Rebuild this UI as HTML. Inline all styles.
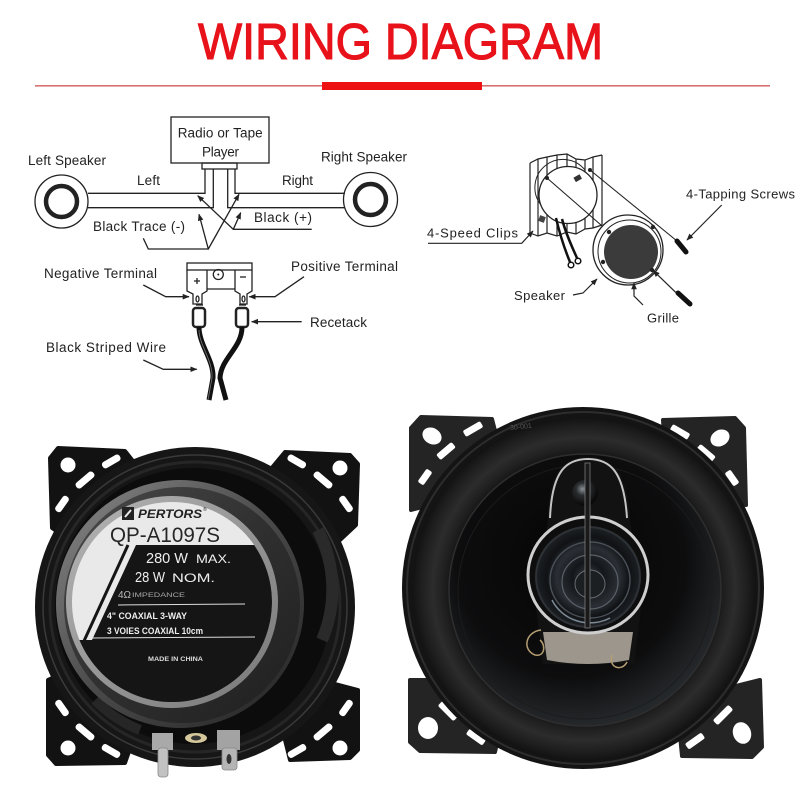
<!DOCTYPE html>
<html><head><meta charset="utf-8">
<style>
html,body{margin:0;padding:0;background:#fff;}
svg{display:block;}
text{font-family:"Liberation Sans",Arial,sans-serif;}
</style></head><body>
<svg width="800" height="800" viewBox="0 0 800 800" xmlns="http://www.w3.org/2000/svg">
<defs>
<marker id="ah" viewBox="0 0 10 10" refX="9" refY="5" markerWidth="7" markerHeight="7" orient="auto" markerUnits="userSpaceOnUse">
<path d="M0,1 L10,5 L0,9 z" fill="#222"/>
</marker>
<radialGradient id="surr" cx="0.5" cy="0.5" r="0.5">
<stop offset="0.76" stop-color="#111"/>
<stop offset="0.82" stop-color="#202020"/>
<stop offset="0.88" stop-color="#2c2c2c"/>
<stop offset="0.95" stop-color="#1e1e1e"/>
<stop offset="1" stop-color="#121212"/>
</radialGradient>
<radialGradient id="cone" cx="0.45" cy="0.4" r="0.6">
<stop offset="0" stop-color="#050505"/>
<stop offset="0.7" stop-color="#0d0d0e"/>
<stop offset="1" stop-color="#25282b"/>
</radialGradient>
<linearGradient id="magg" x1="0" y1="0" x2="1" y2="1">
<stop offset="0" stop-color="#8a8a8a"/>
<stop offset="0.5" stop-color="#4a4a4a"/>
<stop offset="1" stop-color="#222"/>
</linearGradient>
<linearGradient id="ringg" x1="0" y1="0" x2="1" y2="1">
<stop offset="0" stop-color="#b5b5b5"/>
<stop offset="1" stop-color="#777"/>
</linearGradient>
<radialGradient id="dome" cx="0.4" cy="0.35" r="0.6">
<stop offset="0" stop-color="#8a9096"/>
<stop offset="0.4" stop-color="#2a2d30"/>
<stop offset="1" stop-color="#0a0a0a"/>
</radialGradient>
<radialGradient id="tw" cx="0.5" cy="0.5" r="0.5">
<stop offset="0" stop-color="#3a3f45"/>
<stop offset="0.3" stop-color="#14171a"/>
<stop offset="0.6" stop-color="#2a2f35"/>
<stop offset="0.8" stop-color="#101214"/>
<stop offset="1" stop-color="#1d2024"/>
</radialGradient>
<clipPath id="lab"><circle cx="172" cy="602" r="100"/></clipPath>
</defs>

<!-- TITLE -->
<text x="400.5" y="59" text-anchor="middle" font-size="51" fill="#e8121a" stroke="#e8121a" stroke-width="1.1" textLength="405" lengthAdjust="spacingAndGlyphs">WIRING DIAGRAM</text>
<rect x="35" y="85" width="735" height="1.6" fill="#d77272"/>
<rect x="322" y="82" width="160" height="8" fill="#ee1111"/>

<!-- LEFT DIAGRAM -->
<g stroke="#222" stroke-width="1.3" fill="none">
<rect x="171" y="117" width="98" height="46"/>
<rect x="202" y="163" width="35" height="6"/>
<path d="M88,193.3 H205 V169"/>
<path d="M88,207.7 H213.3 V169"/>
<path d="M345,193.3 H235 V169"/>
<path d="M345,207.7 H227.7 V169"/>
<circle cx="61.5" cy="201.5" r="26.5"/>
<circle cx="61.5" cy="201.5" r="15.5" stroke-width="4.5"/>
<circle cx="370.5" cy="199.5" r="27"/>
<circle cx="370.5" cy="199.5" r="15.5" stroke-width="4.5"/>
<polyline points="143.3,238.3 148.3,249 208.3,249 199,214.3" marker-end="url(#ah)"/>
<line x1="208.3" y1="249" x2="239" y2="194.3" marker-end="url(#ah)"/>
<polyline points="311.7,229.3 233.3,229.3 197.7,195.7" marker-end="url(#ah)"/>
<line x1="233.3" y1="229.3" x2="240.7" y2="212.7" marker-end="url(#ah)"/>

<!-- terminal block -->
<rect x="187" y="263" width="65" height="7"/>
<path d="M187,270 V291 L193,294 V304 H202 V294 L207,291 V270"/>
<path d="M235,270 V291 L240,294 V304 H247 V294 L252,291 V270"/>
<line x1="207" y1="289" x2="235" y2="289"/>
<circle cx="218.3" cy="274.5" r="5"/>
<path d="M194,281 H200 M197,278 V284"/>
<path d="M240,277 H246"/>
<ellipse cx="197.5" cy="299" rx="1.5" ry="3"/>
<ellipse cx="243.5" cy="299" rx="1.5" ry="3"/>
<polyline points="143.3,285 165.7,296.7 189,296.7" marker-end="url(#ah)"/>
<polyline points="304,276.7 275,296.7 249.3,296.7" marker-end="url(#ah)"/>
<line x1="301.7" y1="321.7" x2="251.7" y2="321.7" marker-end="url(#ah)"/>
<polyline points="143.3,360 163.3,369.3 196.7,369.3" marker-end="url(#ah)"/>
</g>
<circle cx="218.3" cy="274.5" r="1" fill="#222"/>
<!-- receptacles -->
<rect x="193" y="308" width="12" height="19" rx="3" fill="#fff" stroke="#222" stroke-width="2.5"/>
<rect x="236" y="308" width="12" height="19" rx="3" fill="#fff" stroke="#222" stroke-width="2.5"/>
<line x1="196" y1="305" x2="203" y2="305" stroke="#222" stroke-width="1.3"/>
<line x1="239" y1="305" x2="246" y2="305" stroke="#222" stroke-width="1.3"/>
<path d="M199,327 C199,345 214,360 213,378 L209,400" stroke="#111" stroke-width="5" fill="none"/>
<path d="M242,327 C242,348 221,358 220,378 L226,400" stroke="#111" stroke-width="5" fill="none"/>
<path d="M199,330 C199,345 213,360 212,378 L208,400" stroke="#777" stroke-width="0.8" fill="none"/>

<g font-size="13.5" fill="#222">
<text x="177.7" y="137.7" textLength="85">Radio or Tape</text>
<text x="202" y="156.7" textLength="37">Player</text>
<text x="28" y="165" textLength="78">Left Speaker</text>
<text x="321" y="161.7" textLength="86">Right Speaker</text>
<text x="137" y="185" textLength="23">Left</text>
<text x="282" y="185" textLength="31">Right</text>
<text x="93" y="231" textLength="92">Black  Trace (-)</text>
<text x="254" y="222" textLength="58">Black  (+)</text>
<text x="44" y="278" textLength="113">Negative  Terminal</text>
<text x="291" y="271" textLength="107">Positive  Terminal</text>
<text x="310" y="327" textLength="57">Recetack</text>
<text x="46" y="352" textLength="120">Black  Striped  Wire</text>
</g>

<!-- RIGHT DIAGRAM -->
<g stroke="#222" stroke-width="1.2" fill="none">
<polyline points="530,163 538,159 547,157 557,155 567,154 576,159 585,160 593,157 602,155"/>
<line x1="530" y1="163" x2="530" y2="233"/>
<line x1="538" y1="159" x2="538" y2="236"/>
<line x1="547" y1="157" x2="547" y2="233"/>
<line x1="557" y1="155" x2="557" y2="236"/>
<line x1="567" y1="154" x2="567" y2="232"/>
<line x1="576" y1="159" x2="576" y2="234"/>
<line x1="585" y1="160" x2="585" y2="229"/>
<line x1="593" y1="157" x2="593" y2="228"/>
<line x1="602" y1="155" x2="602" y2="225"/>
<polyline points="530,233 538,236 547,233 557,236 567,232 576,234 585,229 593,228 602,225"/>
</g>
<ellipse cx="568" cy="195" rx="29" ry="28.5" fill="#fff" stroke="#222" stroke-width="1.3"/>
<path d="M541,205 A28,28 0 0 1 585,170" stroke="#222" stroke-width="1" fill="none"/>
<rect x="574" y="176" width="7" height="5" fill="#333" transform="rotate(-30 577 178)"/>
<rect x="539" y="216" width="6" height="6" fill="#444" transform="rotate(20 542 219)"/>
<path d="M556,218 C560,235 565,250 570,262" stroke="#111" stroke-width="2.5" fill="none"/>
<path d="M562,219 C566,234 572,247 577,258" stroke="#111" stroke-width="2.5" fill="none"/>
<circle cx="571" cy="265" r="2.8" fill="#fff" stroke="#111" stroke-width="1.5"/>
<circle cx="578" cy="261" r="2.8" fill="#fff" stroke="#111" stroke-width="1.5"/>
<circle cx="547" cy="178" r="2" fill="#222"/>
<circle cx="590" cy="170" r="2" fill="#222"/>
<line x1="547" y1="178" x2="609" y2="232" stroke="#222" stroke-width="1.1"/>
<ellipse cx="628" cy="250" rx="35" ry="35" fill="#fff" stroke="#222" stroke-width="1.3"/>
<ellipse cx="629.5" cy="251.5" rx="31.5" ry="31.5" fill="none" stroke="#222" stroke-width="1"/>
<ellipse cx="631" cy="252" rx="27" ry="27" fill="#3b3b3b"/>
<circle cx="609" cy="232" r="2.2" fill="#222"/>
<circle cx="653" cy="227" r="2.2" fill="#222"/>
<circle cx="603" cy="262" r="2.2" fill="#222"/>
<circle cx="652" cy="270" r="2.2" fill="#222"/>
<line x1="590" y1="170" x2="677" y2="241" stroke="#222" stroke-width="1.1"/>
<line x1="677" y1="241" x2="686" y2="252" stroke="#111" stroke-width="5" stroke-linecap="round"/>
<line x1="678" y1="293" x2="690" y2="304" stroke="#111" stroke-width="5" stroke-linecap="round"/>
<g stroke="#222" stroke-width="1.2" fill="none">
<line x1="721.7" y1="205" x2="687" y2="240" marker-end="url(#ah)"/>
<line x1="676.7" y1="293.3" x2="653.3" y2="270.7" marker-end="url(#ah)"/>
<polyline points="428,243.3 521.7,243.3 533,231" marker-end="url(#ah)"/>
<polyline points="573,295 583,293 597,279" marker-end="url(#ah)"/>
<polyline points="643,305 634,296 634,283" marker-end="url(#ah)"/>
</g>
<g font-size="13" fill="#222">
<text x="686" y="198.3" textLength="109">4-Tapping Screws</text>
<text x="427" y="237.3" textLength="91">4-Speed  Clips</text>
<text x="514" y="300" textLength="51">Speaker</text>
<text x="647" y="322.7" textLength="32">Grille</text>
</g>

<!-- LEFT SPEAKER PHOTO -->
<g fill="#121212">
<polygon points="50,458 58,448 125,451 140,470 70,540 52,528" stroke="#121212" stroke-width="4" stroke-linejoin="round"/>
<polygon points="285,452 350,455 358,464 356,525 340,540 270,470" stroke="#121212" stroke-width="4" stroke-linejoin="round"/>
<polygon points="48,680 48,755 56,764 125,763 140,720 70,670" stroke="#121212" stroke-width="4" stroke-linejoin="round"/>
<polygon points="290,760 350,758 358,750 358,690 320,680 280,720" stroke="#121212" stroke-width="4" stroke-linejoin="round"/>
</g>
<g fill="#fff">
<circle cx="68" cy="465" r="7.5"/>
<rect x="101" y="458" width="20" height="7" rx="3" transform="rotate(-30 111 461)"/>
<rect x="74" y="476.5" width="22" height="7" rx="3" transform="rotate(-40 85 480)"/>
<rect x="53" y="500.5" width="18" height="7" rx="3" transform="rotate(-55 62 504)"/>
<circle cx="340" cy="468" r="7.5"/>
<rect x="287" y="458" width="20" height="7" rx="3" transform="rotate(30 297 461)"/>
<rect x="312" y="476.5" width="22" height="7" rx="3" transform="rotate(40 323 480)"/>
<rect x="337" y="500.5" width="18" height="7" rx="3" transform="rotate(55 346 504)"/>
<circle cx="68" cy="748" r="7.5"/>
<rect x="101" y="747.5" width="20" height="7" rx="3" transform="rotate(30 111 751)"/>
<rect x="74" y="728.5" width="22" height="7" rx="3" transform="rotate(40 85 732)"/>
<rect x="53" y="704.5" width="18" height="7" rx="3" transform="rotate(55 62 708)"/>
<circle cx="340" cy="748" r="7.5"/>
<rect x="287" y="747.5" width="20" height="7" rx="3" transform="rotate(-30 297 751)"/>
<rect x="312" y="728.5" width="22" height="7" rx="3" transform="rotate(-40 323 732)"/>
<rect x="337" y="704.5" width="18" height="7" rx="3" transform="rotate(-55 346 708)"/>
</g>
<circle cx="195" cy="607" r="160" fill="#161616"/>
<circle cx="195" cy="607" r="152" fill="none" stroke="#3a3a3a" stroke-width="1.5"/>
<circle cx="195" cy="607" r="145" fill="none" stroke="#262626" stroke-width="3"/>
<circle cx="193" cy="606" r="138" fill="#0c0c0c"/>
<path d="M318,530 A130,130 0 0 1 322,640" stroke="#2a2a2a" stroke-width="12" fill="none"/>
<path d="M95,700 A130,130 0 0 0 140,730" stroke="#262626" stroke-width="10" fill="none"/>
<circle cx="180" cy="604" r="124" fill="url(#magg)"/>
<circle cx="182" cy="605" r="118" fill="#1c1c1c" opacity="0.55"/>
<circle cx="172" cy="602" r="106" fill="url(#ringg)"/>
<g clip-path="url(#lab)">
<rect x="60" y="490" width="230" height="230" fill="#e9e9e9"/>
<polygon points="136,545 300,545 300,720 40,720 40,640 92,640" fill="#151515"/>
<line x1="128" y1="545" x2="84" y2="641" stroke="#151515" stroke-width="3"/>
<rect x="40" y="640" width="260" height="80" fill="#151515"/>
</g>
<rect x="122" y="507" width="12" height="13" fill="#222"/>
<path d="M125,517 L131,510" stroke="#e9e9e9" stroke-width="2"/>
<text x="138" y="518" font-size="12" font-weight="bold" font-style="italic" fill="#222" textLength="64" lengthAdjust="spacingAndGlyphs">PERTORS</text>
<text x="203" y="511" font-size="5" fill="#222">®</text>
<text x="110" y="542" font-size="21" fill="#262626" textLength="110" lengthAdjust="spacingAndGlyphs">QP-A1097S</text>
<text x="146" y="563" font-size="15" fill="#eee" textLength="42" lengthAdjust="spacingAndGlyphs">280 W</text>
<text x="196" y="563" font-size="12" fill="#eee" textLength="35" lengthAdjust="spacingAndGlyphs">MAX.</text>
<text x="135" y="582" font-size="15" fill="#eee" textLength="30" lengthAdjust="spacingAndGlyphs">28 W</text>
<text x="172" y="582" font-size="12" fill="#eee" textLength="43" lengthAdjust="spacingAndGlyphs">NOM.</text>
<text x="118" y="598" font-size="10" fill="#bbb">4Ω</text>
<text x="132" y="597" font-size="6" fill="#aaa" textLength="53" lengthAdjust="spacingAndGlyphs">IMPEDANCE</text>
<line x1="118" y1="605" x2="245" y2="604" stroke="#ddd" stroke-width="1"/>
<text x="107" y="619" font-size="9" font-weight="bold" fill="#eee" textLength="80" lengthAdjust="spacingAndGlyphs">4" COAXIAL 3-WAY</text>
<text x="107" y="634" font-size="9" font-weight="bold" fill="#eee" textLength="96" lengthAdjust="spacingAndGlyphs">3 VOIES COAXIAL 10cm</text>
<line x1="92" y1="638" x2="255" y2="637" stroke="#ddd" stroke-width="1"/>
<text x="148" y="661" font-size="6.5" font-weight="bold" fill="#ddd" textLength="55" lengthAdjust="spacingAndGlyphs">MADE IN CHINA</text>
<!-- terminals -->
<rect x="152" y="733" width="21" height="17" fill="#a9a9a9"/>
<rect x="158" y="748" width="10" height="29" rx="3" fill="#c2c2c2" stroke="#888" stroke-width="0.8"/>
<rect x="217" y="730" width="23" height="20" fill="#a3a3a3"/>
<rect x="222" y="748" width="15" height="22" rx="3" fill="#b5b5b5" stroke="#888" stroke-width="0.8"/>
<ellipse cx="229" cy="759" rx="2.5" ry="5" fill="#333"/>
<ellipse cx="196" cy="738" rx="11" ry="5" fill="#d4c89c"/>
<ellipse cx="196" cy="738" rx="5" ry="2.5" fill="#333"/>

<!-- RIGHT SPEAKER PHOTO -->
<g fill="#242424" stroke="#242424" stroke-width="4" stroke-linejoin="round">
<polygon points="411,428 421,417 492,419 500,450 450,500 411,510"/>
<polygon points="663,420 735,418 744,428 746,505 715,500 665,450"/>
<polygon points="410,680 410,742 420,751 495,752 500,730 450,680"/>
<polygon points="680,735 682,756 752,757 762,747 760,680 720,690"/>
</g>
<g fill="#fff">
<ellipse cx="432" cy="436" rx="10" ry="8" transform="rotate(30 432 436)"/>
<rect x="463" y="425.5" width="20" height="7" rx="2" transform="rotate(-30 473 429)"/>
<rect x="436" y="447.5" width="20" height="7" rx="2" transform="rotate(-40 446 451)"/>
<rect x="417" y="473.5" width="16" height="7" rx="2" transform="rotate(-55 425 477)"/>
<ellipse cx="720" cy="438" rx="10" ry="8" transform="rotate(-30 720 438)"/>
<rect x="670" y="428.5" width="20" height="7" rx="2" transform="rotate(30 680 432)"/>
<rect x="696" y="449.5" width="20" height="7" rx="2" transform="rotate(40 706 453)"/>
<rect x="724" y="474.5" width="16" height="7" rx="2" transform="rotate(55 732 478)"/>
<ellipse cx="428" cy="728" rx="10" ry="11"/>
<rect x="437" y="707.5" width="22" height="7" rx="2" transform="rotate(45 448 711)"/>
<rect x="466" y="733.5" width="20" height="7" rx="2" transform="rotate(35 476 737)"/>
<ellipse cx="742" cy="733" rx="9" ry="11" transform="rotate(-20 742 733)"/>
<rect x="712" y="711.5" width="22" height="7" rx="2" transform="rotate(-45 723 715)"/>
<rect x="685" y="737.5" width="20" height="7" rx="2" transform="rotate(-35 695 741)"/>
</g>
<circle cx="583" cy="588" r="181" fill="#141414"/>
<circle cx="583" cy="588" r="176" fill="none" stroke="#2d2d2d" stroke-width="2"/>
<circle cx="584" cy="589" r="172" fill="url(#surr)"/>
<circle cx="585" cy="590" r="136" fill="url(#cone)"/>
<circle cx="585" cy="590" r="136" fill="none" stroke="#2e2e2e" stroke-width="1.5"/>
<circle cx="585" cy="592" r="127" fill="none" stroke="#1c1c1c" stroke-width="1"/>
<text x="510" y="429" font-size="7" fill="#555" transform="rotate(-6 520 427)">30-001</text>
<!-- bridge -->
<path d="M548,520 C548,472 565,457 588,457 C611,457 628,472 630,520 L642,600 L634,664 L543,664 L535,600 Z" fill="#121212"/>
<path d="M550,518 C552,471 566,459 588,459 C610,459 624,471 627,518" stroke="#c4c4c4" stroke-width="2" fill="none"/>
<circle cx="585" cy="493" r="13" fill="url(#dome)"/>
<path d="M543,632 L633,632 L629,660 Q588,668 547,660 Z" fill="#9d968d"/>
<ellipse cx="588" cy="575" rx="60" ry="58" fill="#0e0e0e" stroke="#cfcfcf" stroke-width="3"/>
<ellipse cx="588" cy="577" rx="52" ry="50" fill="url(#tw)" stroke="#2e3236" stroke-width="2"/>
<ellipse cx="590" cy="580" rx="40" ry="38" fill="none" stroke="#4a5057" stroke-width="1.5"/>
<ellipse cx="590" cy="582" rx="28" ry="27" fill="none" stroke="#5a6068" stroke-width="1.2"/>
<ellipse cx="590" cy="584" rx="15" ry="14" fill="#1c1f22" stroke="#666c73" stroke-width="1"/>
<path d="M552,600 A42,40 0 0 0 610,618" stroke="#7d8a96" stroke-width="1.5" fill="none"/>
<rect x="585" y="463" width="5" height="165" fill="#1a1a1a" stroke="#8a8a8a" stroke-width="0.7"/>
<path d="M541,630 C525,632 522,650 535,655 C545,657 546,645 540,640" stroke="#b59f72" stroke-width="1.5" fill="none"/>
<path d="M612,655 C608,668 622,672 627,662" stroke="#b59f72" stroke-width="1.5" fill="none"/>
</svg>
</body></html>
